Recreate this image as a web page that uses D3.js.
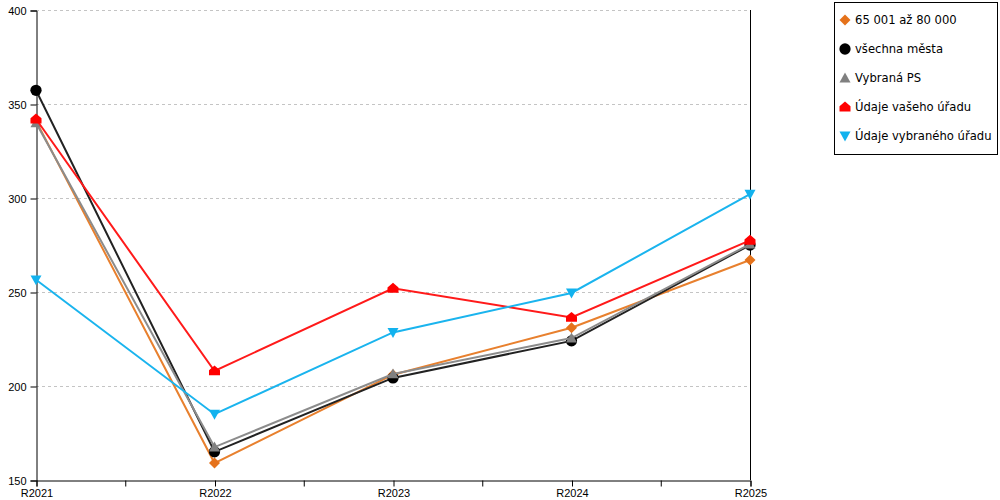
<!DOCTYPE html>
<html>
<head>
<meta charset="utf-8">
<script src="https://cdn.jsdelivr.net/npm/d3@7/dist/d3.min.js"></script>
<style>
  body { margin: 0; background: #fff; }
  svg { font-family: "DejaVu Sans", Verdana, sans-serif; }
</style>
</head>
<body>
<svg id="chart" width="1000" height="500"></svg>
<script>
`use strict`;

const years = [`R2021`, `R2022`, `R2023`, `R2024`, `R2025`];
const yTicks = [150, 200, 250, 300, 350, 400];

const seriesNames = [`65 001 až 80 000`, `všechna města`, `Vybraná PS`, `Údaje vašeho úřadu`, `Údaje vybraného úřadu`];

const orangeVals = [341, 159, 206, 231, 267];
const blackVals = [357.3, 165, 204.3, 224, 275];
const grayVals = [340, 167.5, 206.4, 225.5, 275.5];
const redVals = [342, 208, 252, 236.5, 277.5];
const blueVals = [256.5, 185, 228.5, 249.5, 302];

const colors = [`#e5721b`, `#000000`, `#808080`, `#ff0000`, `#12b2ee`];
const lineColors = [`#e8802e`, `#222222`, `#8c8c8c`, `#ff1a1a`, `#1ab4ee`];
const shapes = [`diamond`, `circle`, `up`, `house`, `down`];

(function () {

  const svg = d3.select(`#chart`);

  const x = d3.scalePoint().domain(years).range([36, 750]);
  const y = d3.scaleLinear().domain([150, 400]).range([480, 10]);

  // grid
  svg.append(`g`).selectAll(`line`).data(yTicks.filter(d => d > 150))
    .enter()
    .append(`line`)
    .attr(`x1`, 36)
    .attr(`x2`, 750)
    .attr(`y1`, d => y(d) + .5)
    .attr(`y2`, d => y(d) + .5)
    .attr(`stroke`, `#c4c4c4`)
    .attr(`stroke-dasharray`, `3,3`);

  // right border line
  svg.append(`line`)
    .attr(`x1`, x(`R2025`) + .5).attr(`x2`, x(`R2025`) + .5)
    .attr(`y1`, y(400)).attr(`y2`, y(150))
    .attr(`stroke`, `#000`);

  // axes
  let yAxis = svg.append(`g`)
    .attr(`transform`, `translate(36.5,0.5)`)
    .call(d3.axisLeft(y).tickValues(yTicks).tickSize(6).tickPadding(4));

  let xAxis = svg.append(`g`)
    .attr(`transform`, `translate(0.5,480.5)`)
    .call(d3.axisBottom(x).tickSize(6).tickPadding(3));

  // minor ticks between categories
  let step = x.step();
  xAxis.selectAll(`line.minor`).data(years.slice(1))
    .enter()
    .append(`line`)
    .attr(`class`, `minor`)
    .attr(`x1`, d => x(d) - step / 2)
    .attr(`x2`, d => x(d) - step / 2)
    .attr(`y1`, 0)
    .attr(`y2`, 6)
    .attr(`stroke`, `#000`);

  [yAxis, xAxis].forEach(a => {
    a.select(`.domain`).attr(`stroke`, `#000`);
    a.selectAll(`text`).style(`font-size`, `11px`).style(`fill`, `#000`);
    a.selectAll(`line`).attr(`stroke`, `#000`);
  });

  const series = [orangeVals, blackVals, grayVals, redVals, blueVals];

  const symbolPath = (shape, s) => {
    if (shape === `diamond`) return `M0,${-s}L${s},0L0,${s}L${-s},0Z`;
    if (shape === `circle`) return d3.symbol().type(d3.symbolCircle).size(s * s * 3.3)();
    if (shape === `up`) return `M0,${-s}L${s},${s * .8}L${-s},${s * .8}Z`;
    if (shape === `down`) return `M0,${s}L${s},${-s * .8}L${-s},${-s * .8}Z`;
    return `M0,${-s}L${s},${-s * .15}L${s},${s * .8}L${-s},${s * .8}L${-s},${-s * .15}Z`;
  };

  let line = d3.line().x((d, i) => x(years[i])).y(d => y(d));

  series.forEach((vals, k) => {
    let g = svg.append(`g`);

    g.append(`path`)
      .attr(`d`, line(vals))
      .attr(`fill`, `none`)
      .attr(`stroke`, lineColors[k])
      .attr(`stroke-width`, 2);

    g.selectAll(`path.pt`).data(vals)
      .enter()
      .append(`path`)
      .attr(`class`, `pt`)
      .attr(`transform`, (d, i) => `translate(${x(years[i])},${y(d)})`)
      .attr(`d`, symbolPath(shapes[k], 5.5))
      .attr(`fill`, colors[k]);
  });

  // legend
  let legend = svg.append(`g`);

  legend.append(`rect`)
    .attr(`x`, 834.5)
    .attr(`y`, 2.5)
    .attr(`width`, 163)
    .attr(`height`, 152)
    .attr(`fill`, `#fff`)
    .attr(`stroke`, `#000`);

  let items = legend.selectAll(`g.item`).data(seriesNames)
    .enter()
    .append(`g`)
    .attr(`class`, `item`)
    .attr(`transform`, (d, i) => `translate(845,${20 + i * 29})`);

  items.append(`path`)
    .attr(`d`, (d, i) => symbolPath(shapes[i], 5.5))
    .attr(`fill`, (d, i) => colors[i]);

  items.append(`text`)
    .attr(`x`, 10)
    .attr(`y`, 4)
    .style(`font-size`, `11.6px`)
    .text(d => d);
})();
</script>
</body>
</html>
